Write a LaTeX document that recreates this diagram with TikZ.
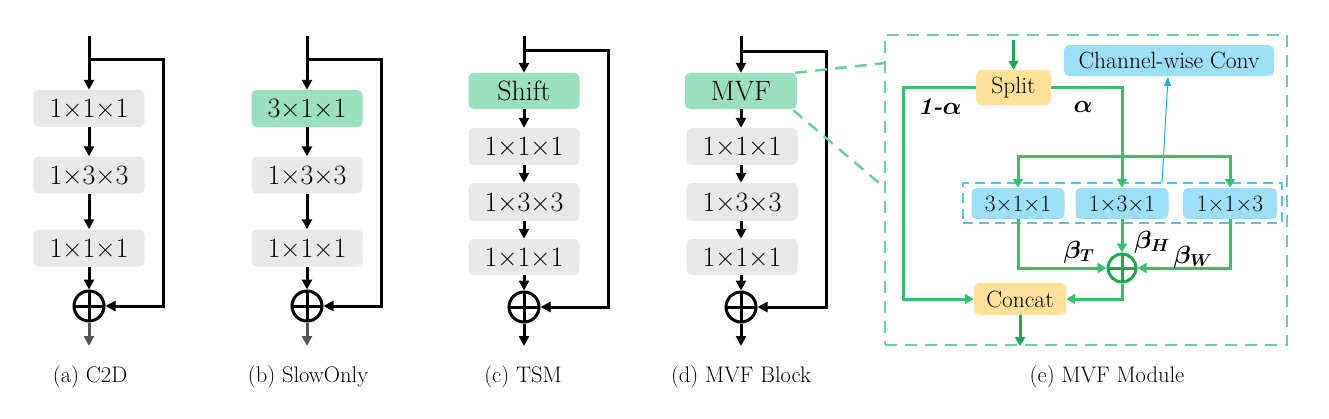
\documentclass[tikz,border=0pt]{standalone}
\usepackage{bm}
\usetikzlibrary{arrows.meta}
\definecolor{boxgrey}{HTML}{E8E8E8}
\definecolor{boxgreen}{HTML}{9BE0BE}
\definecolor{boxyellow}{HTML}{FFE29A}
\definecolor{boxblue}{HTML}{9CDFF7}
\definecolor{lgreen}{HTML}{38BE6C}
\definecolor{dgreen}{HTML}{1AAA4C}
\definecolor{dashgreen}{HTML}{6ACF9A}
\definecolor{dashblue}{HTML}{4FC3F0}
\definecolor{arrblue}{HTML}{1AAFE8}
\definecolor{outgrey}{HTML}{555555}
\tikzset{
  ln/.style={line width=3pt},
  arr/.style={line width=3pt,-{Triangle[length=10pt,width=10pt]}},
  garr/.style={line width=3pt,lgreen,-{Triangle[length=9pt,width=10pt]}},
  gln/.style={line width=3pt,lgreen},
  box/.style={rounded corners=5pt,fill=boxgrey,minimum width=111pt,minimum height=37pt,inner sep=0pt,font=\fontsize{28}{28}\selectfont},
  gbox/.style={box,fill=boxgreen},
  mbox/.style={rounded corners=5pt,inner sep=0pt,minimum height=32pt,font=\fontsize{23.5}{23.5}\selectfont},
  ybox/.style={mbox,fill=boxyellow},
  bbox/.style={mbox,fill=boxblue,minimum height=31pt},
  plus/.style={circle,draw,line width=3pt,minimum size=30pt,inner sep=0pt},
  captext/.style={font=\fontsize{22.5}{22.5}\selectfont},
  lab/.style={font=\fontsize{24}{24}\selectfont\bfseries\itshape},
}
\newcommand{\crossin}[2][black]{\draw[line width=3pt,#1] ([yshift=-1.5pt]#2.north)--([yshift=1.5pt]#2.south) ([xshift=1.5pt]#2.west)--([xshift=-1.5pt]#2.east);}
\begin{document}
\begin{tikzpicture}[x=1pt,y=-1pt]
\useasboundingbox (0,0) rectangle (1329,418);
% ---------- (a) C2D
\coordinate (a0) at (89,36);
\coordinate (ab) at (89,59);
\coordinate (ar) at (163,59);
\node[box] (a1) at (89,108.5) {1×1×1};
\node[box] (a2) at (89,175) {1×3×3};
\node[box] (a3) at (89,248) {1×1×1};
\node[plus] (ap) at (89,306) {};
\coordinate (ao) at (89,346);
\draw[arr] (a0) -- (a1);
\draw[arr] (a1) -- (a2);
\draw[arr] (a2) -- (a3);
\draw[arr] (a3) -- (ap);
\draw[arr,outgrey] (ap) -- (ao);
\draw[arr] (ab) -- (ar) |- (ap);
\crossin{ap}
\node[captext] (ca) at (90,377) {(a) C2D};
% ---------- (b) SlowOnly
\coordinate (b0) at (307,36);
\coordinate (bb) at (307,59);
\coordinate (br) at (381,59);
\node[gbox] (b1) at (307,108.5) {3×1×1};
\node[box] (b2) at (307,175) {1×3×3};
\node[box] (b3) at (307,248) {1×1×1};
\node[plus] (bp) at (307,306) {};
\coordinate (bo) at (307,346);
\draw[arr] (b0) -- (b1);
\draw[arr] (b1) -- (b2);
\draw[arr] (b2) -- (b3);
\draw[arr] (b3) -- (bp);
\draw[arr,outgrey] (bp) -- (bo);
\draw[arr] (bb) -- (br) |- (bp);
\crossin{bp}
\node[captext] (cb) at (308,377) {(b) SlowOnly};
% ---------- (c) TSM
\coordinate (c0) at (524,36);
\coordinate (cb0) at (524,50);
\coordinate (cr) at (608,50);
\node[gbox,minimum height=36pt] (c1) at (524,91) {Shift};
\node[box] (c2) at (524,146.5) {1×1×1};
\node[box,minimum height=38pt] (c3) at (524,202) {1×3×3};
\node[box,minimum height=36pt] (c4) at (524,257) {1×1×1};
\node[plus] (cp) at (524,307) {};
\coordinate (co) at (524,346);
\draw[arr] (c0) -- (c1);
\draw[arr] (c1) -- (c2);
\draw[arr] (c2) -- (c3);
\draw[arr] (c3) -- (c4);
\draw[arr] (c4) -- (cp);
\draw[arr] (cp) -- (co);
\draw[arr] (cb0) -- (cr) |- (cp);
\crossin{cp}
\node[captext] (cc) at (523,377) {(c) TSM};
% ---------- (d) MVF Block
\coordinate (d0) at (741,36);
\coordinate (db) at (741,51);
\coordinate (dr) at (826,51);
\node[gbox,minimum width=112pt,minimum height=36pt] (d1) at (741,91) {MVF};
\node[box] (d2) at (742,146.5) {1×1×1};
\node[box,minimum height=38pt] (d3) at (742,202) {1×3×3};
\node[box,minimum height=36pt] (d4) at (742,257) {1×1×1};
\node[plus] (dp) at (741,307) {};
\coordinate (do) at (741,346);
\draw[arr] (d0) -- (d0|-d1.north);
\draw[arr] (d1.south-|d0) -- (d0|-d2.north);
\draw[arr] (d2.south-|d0) -- (d0|-d3.north);
\draw[arr] (d3.south-|d0) -- (d0|-d4.north);
\draw[arr] (d4.south-|d0) -- (dp);
\draw[arr] (dp) -- (do);
\draw[arr] (db) -- (dr) |- (dp);
\crossin{dp}
\node[captext] (cd) at (741,377) {(d) MVF Block};
% ---------- (e) MVF Module
\node[draw=dashgreen,line width=2.5pt,dash pattern=on 12pt off 8pt,minimum width=402pt,minimum height=310pt,inner sep=0pt] (mod) at (1086,190) {};
\coordinate (z1) at (885,63);
\coordinate (z2) at (885,188);
\draw[dashgreen,line width=2.5pt,dash pattern=on 12pt off 8pt] ([xshift=-2pt]d1.north east) -- (z1);
\draw[dashgreen,line width=2.5pt,dash pattern=on 12pt off 8pt] ([xshift=-4pt,yshift=-1pt]d1.south east) -- (z2);
\node[ybox,minimum width=75pt,minimum height=35pt] (split) at (1013.5,87.5) {Split};
\node[bbox,minimum width=210pt] (cw) at (1169,60.5) {Channel-wise Conv};
\node[ybox,minimum width=92pt] (concat) at (1020,299) {Concat};
\node[draw=dashblue,line width=2pt,dash pattern=on 10pt off 6pt,minimum width=319pt,minimum height=40pt,inner sep=0pt] (grp) at (1122.5,203) {};
\node[bbox,minimum width=93pt] (m1) at (1018,203.5) {3×1×1};
\node[bbox,minimum width=93pt] (m2) at (1122,203.5) {1×3×1};
\node[bbox,minimum width=94pt] (m3) at (1230,203.5) {1×1×3};
\node[circle,draw=dgreen,line width=3pt,minimum size=28pt,inner sep=0pt] (gp) at (1122,268) {};
\coordinate (ein) at (1013.5,40);
\coordinate (eout) at (1020,346);
\coordinate (sl) at (903,87.5);
\coordinate (sr) at (1122,87.5);
\coordinate (dist) at (1122,156);
\coordinate (bs) at (1162,183);
\coordinate (bt) at (1168,77);
\draw[line width=3pt,dgreen,-{Triangle[length=9pt,width=10pt]}] (ein) -- (split);
\draw[garr] (split) -- (sl) |- (concat);
\draw[garr] (split) -- (sr) -- (m2);
\draw[garr] (dist) -| (m1);
\draw[garr] (dist) -| (m3);
\draw[garr] (m1) |- (gp);
\draw[garr] (m2) -- (gp);
\draw[garr] (m3) |- (gp);
\draw[garr] (gp) |- (concat);
\draw[line width=3pt,dgreen,-{Triangle[length=9pt,width=10pt]}] (concat) -- (eout);
\draw[arrblue,line width=1pt,-{Triangle[length=9pt,width=7pt]}] (bs) -- (bt);
\crossin[dgreen]{gp}
\node[lab] (l1) at (940,107) {1-$\bm{\alpha}$};
\node[lab] (l2) at (1083,107) {$\bm{\alpha}$};
\node[lab] (l3) at (1079,252) {$\bm{\beta_T}$};
\node[lab] (l4) at (1152,242) {$\bm{\beta_H}$};
\node[lab] (l5) at (1193,257) {$\bm{\beta_W}$};
\node[captext] (ce) at (1107,377) {(e) MVF Module};
\end{tikzpicture}
\end{document}
